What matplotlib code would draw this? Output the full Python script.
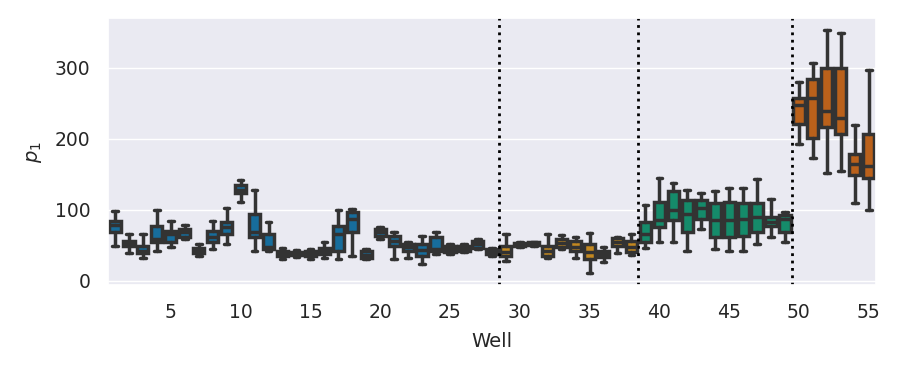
import numpy as np
import matplotlib
matplotlib.use("Agg")
import matplotlib.pyplot as plt
import seaborn as sns

# five-number summaries, one entry per well (1..55)
wells = list(range(1, 56))
whislo = [49, 39, 32, 42, 48, 59, 35, 45, 51, 111,
          41, 41, 31, 33, 30, 32, 31, 35, 30, 59,
          31, 32, 24, 38, 38, 40, 45, 35, 28, 48,
          49, 32, 45, 32, 11, 26, 39, 36, 46, 54,
          55, 41, 72, 44, 41, 42, 52, 62, 55, 193,
          173, 152, 155, 110, 100]
q1 = [68, 49, 39, 54, 55, 62, 39, 54, 66, 124,
      62, 45, 35, 36, 34, 38, 42, 69, 32, 63,
      49, 42, 35, 41, 40, 42, 46, 38, 35, 49,
      50, 35, 47, 42, 31, 33, 49, 40, 54, 76,
      85, 68, 87, 61, 61, 63, 69, 77, 68, 221,
      201, 216, 207, 149, 145]
med = [78, 52, 42, 58, 66, 68, 42, 62, 75, 128,
       68, 47, 38, 38, 37, 42, 66, 87, 36, 68,
       56, 48, 43, 45, 45, 46, 51, 42, 40, 51,
       52, 42, 53, 48, 40, 38, 54, 47, 66, 85,
       99, 94, 103, 85, 85, 87, 89, 83, 87, 248,
       258, 239, 230, 165, 162]
q3 = [84, 56, 49, 77, 70, 72, 46, 70, 83, 135,
      94, 65, 42, 40, 41, 46, 77, 96, 41, 72,
      63, 52, 51, 62, 49, 49, 56, 45, 49, 53,
      54, 49, 58, 56, 52, 42, 60, 56, 82, 111,
      127, 113, 114, 110, 111, 110, 110, 89, 92, 258,
      285, 300, 300, 179, 207]
whishi = [98, 66, 66, 100, 84, 79, 52, 84, 103, 142,
          128, 83, 46, 43, 44, 55, 99, 101, 44, 76,
          68, 55, 63, 69, 52, 52, 59, 46, 65, 54,
          55, 66, 64, 61, 67, 48, 62, 66, 107, 145,
          137, 128, 124, 127, 131, 130, 143, 115, 96, 280,
          307, 354, 349, 220, 297]
# group index of each well (colour), boundaries drawn between groups
group = [0] * 28 + [1] * 10 + [2] * 11 + [3] * 6
boundaries = [28.5, 38.5, 49.5]
xticks = [5, 10, 15, 20, 25, 30, 35, 40, 45, 50, 55]

sns.set_theme(style="darkgrid")
plt.rcParams['font.family'] = ['DejaVu Sans']

pal = sns.color_palette("colorblind")
colors = [sns.desaturate(pal[g], 0.75) for g in group]
edge = "#333333"
lw = 2.5

fig, ax = plt.subplots(figsize=(9, 3.66), dpi=100)

stats = []
for i in range(len(wells)):
    stats.append({"whislo": whislo[i], "q1": q1[i], "med": med[i],
                  "q3": q3[i], "whishi": whishi[i], "fliers": []})

pos = [w - 1 for w in wells]
bp = ax.bxp(stats, positions=pos, widths=0.8, patch_artist=True,
            showfliers=False, capwidths=0.4,
            boxprops=dict(edgecolor=edge, linewidth=lw),
            medianprops=dict(color=edge, linewidth=lw),
            whiskerprops=dict(color=edge, linewidth=lw),
            capprops=dict(color=edge, linewidth=lw))
for patch, c in zip(bp["boxes"], colors):
    patch.set_facecolor(c)

for b in boundaries:
    ax.axvline(b - 1, color="black", linestyle=":", linewidth=2)

ax.set_xlim(-0.5, len(wells) - 0.5)
ax.set_ylim(-7, 370)
ax.set_xticks([t - 1 for t in xticks])
ax.set_xticklabels([str(t) for t in xticks])
ax.set_yticks([0, 100, 200, 300])
ax.xaxis.grid(False)
ax.tick_params(labelsize=13.5, pad=6.5)
ax.set_xlabel("Well", fontsize=14, labelpad=7)
ax.set_ylabel("$p_1$", fontsize=14, labelpad=8)

fig.subplots_adjust(left=0.12, right=0.973, top=0.95, bottom=0.22)
fig.savefig("out.png")
